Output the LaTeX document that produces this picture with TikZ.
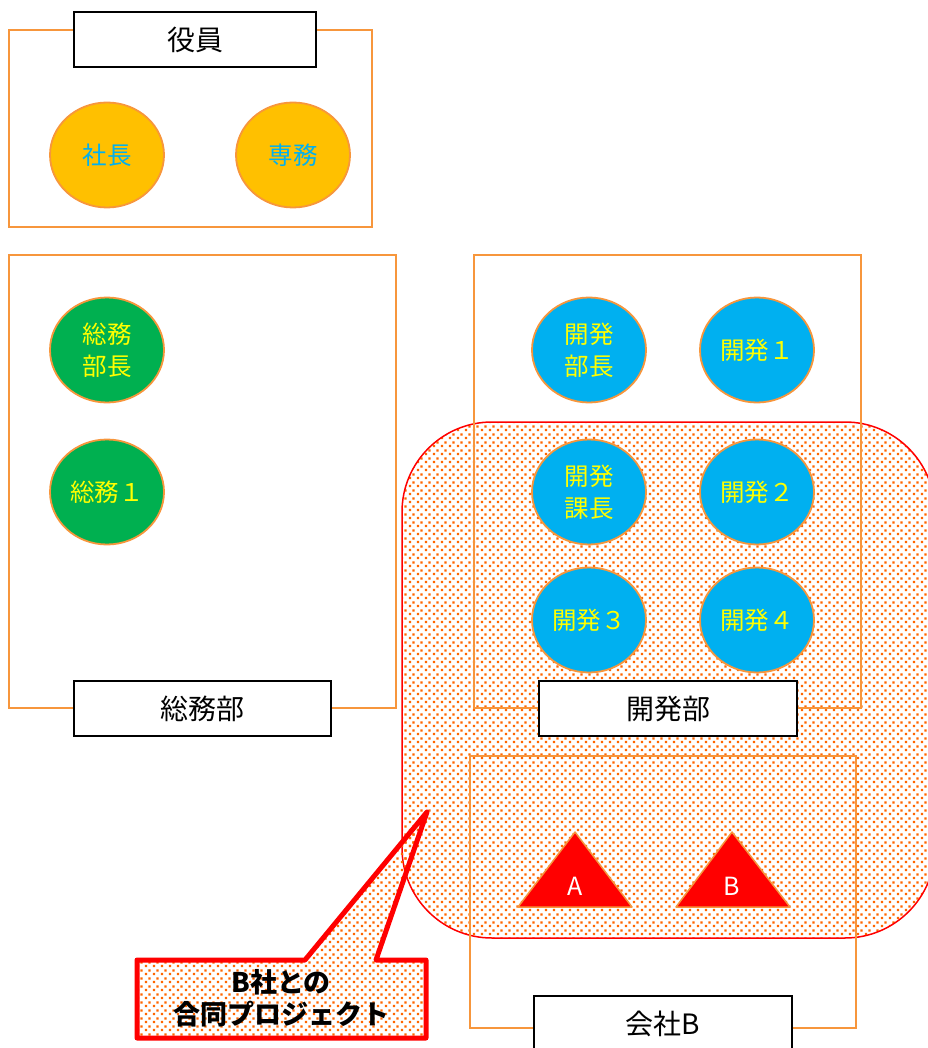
\documentclass[tikz,border=0pt]{standalone}
\usepackage{fontspec}
\setmainfont{Noto Sans CJK JP}
\usetikzlibrary{patterns,shapes.geometric}
\pgfdeclarepatternformonly{jdots}{\pgfpoint{0pt}{0pt}}{\pgfpoint{8pt}{8pt}}{\pgfpoint{8pt}{8pt}}{%
  \pgfpathrectangle{\pgfpoint{1pt}{1pt}}{\pgfpoint{2.4pt}{2.4pt}}%
  \pgfpathrectangle{\pgfpoint{5pt}{5pt}}{\pgfpoint{2.4pt}{2.4pt}}%
  \pgfusepath{fill}}
\definecolor{boxorange}{HTML}{F7963C}
\definecolor{corange}{HTML}{FFC000}
\definecolor{cgreen}{HTML}{00B050}
\definecolor{cblue}{HTML}{00B0F0}
\definecolor{tyellow}{HTML}{FFFF00}
\definecolor{dotorange}{HTML}{FF6600}
\definecolor{pred}{HTML}{FF0000}
\tikzset{
  group/.style={draw=boxorange, line width=1.5pt},
  label box/.style={draw=black, fill=white, line width=1.8pt, minimum width=#1, minimum height=55pt, inner sep=0pt, font=\fontsize{28pt}{32pt}\selectfont},
  person/.style={ellipse, draw=boxorange, line width=1.8pt, minimum width=114pt, minimum height=105pt, inner sep=0pt, align=center, font=\fontsize{24.5pt}{32pt}\selectfont},
  exec/.style={person, fill=corange, text=cblue},
  gen/.style={person, fill=cgreen, text=tyellow},
  dev/.style={person, fill=cblue, text=tyellow},
  project/.style={pattern=jdots, pattern color=dotorange},
  tri/.style={fill=pred, draw=boxorange, line width=1.5pt, line join=round},
  trilabel/.style={text=white, font=\fontsize{25pt}{28pt}\selectfont, inner sep=0pt},
}
\begin{document}
\begin{tikzpicture}[x=1pt,y=-1pt]
\useasboundingbox (0,0) rectangle (927,1048);
% joint project area
\draw[project, draw=pred, line width=1.5pt, rounded corners=90pt] (402,422) rectangle (935,938);
% group boxes
\draw[group] (9,30) rectangle (372,227);
\draw[group] (9,255) rectangle (396,708);
\draw[group] (474,255) rectangle (861,708);
\draw[group] (470,756) rectangle (856,1028);
% group labels
\node[label box=242pt] (yakuin) at (195,39.5) {役員};
\node[label box=257pt] (somubu) at (202.5,708.5) {総務部};
\node[label box=258pt] (kaihatsubu) at (668,708.5) {開発部};
\node[label box=258pt] (kaishab) at (663,1023.5) {会社B};
% people
\node[exec] (shacho) at (107,155) {社長};
\node[exec] (senmu) at (293,155) {専務};
\node[gen] (somubucho) at (107,350) {総務\\部長};
\node[gen] (somu1) at (107,492) {総務１};
\node[dev] (devbucho) at (589,350) {開発\\部長};
\node[dev] (dev1) at (757,350) {開発１};
\node[dev] (devkacho) at (589,492) {開発\\課長};
\node[dev] (dev2) at (757,492) {開発２};
\node[dev] (dev3) at (589,620) {開発３};
\node[dev] (dev4) at (757,620) {開発４};
% company B members
\draw[tri] (575,832) -- (632,907) -- (518,907) -- cycle;
\node[trilabel] (ma) at (575,886) {A};
\draw[tri] (732,832) -- (790,907) -- (676,907) -- cycle;
\node[trilabel] (mb) at (732,886) {B};
% callout
\coordinate (tip) at (427,812);
\draw[project, draw=pred, line width=5pt, line join=round]
  (137,960) -- (305,960) -- (tip) -- (376,960) -- (426,960) -- (426,1038) -- (137,1038) -- cycle;
\node[align=center, font=\bfseries\fontsize{27pt}{32pt}\selectfont, inner sep=0pt] (callout) at (281,998) {B社との\\合同プロジェクト};
\end{tikzpicture}
\end{document}
